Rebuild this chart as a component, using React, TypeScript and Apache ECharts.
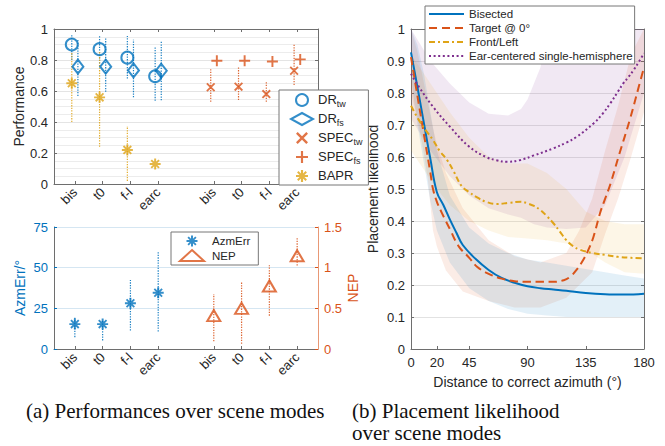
import React, { useEffect, useRef } from "react";
import * as echarts from "echarts";

const BLUE = "#0072BD";
const ORANGE = "#D95319";
const YELLOW = "#DFA417";
const PURPLE = "#7E2F8E";
const TEXT = "#262626";
const AXIS = "#6e6e6e";
const FONT = '"Liberation Sans", Arial, Helvetica, sans-serif';
const SERIF = '"Liberation Serif", "Times New Roman", serif';

// ---------- (a) performances over scene modes ----------
const modes = ["bis", "t0", "f-l", "earc"];
const tickPositions = [1, 2, 3, 4, 6, 7, 8, 9];
const tickLabels = [...modes, ...modes];
const detPos = [1, 2, 3, 4];
const specPos = [6, 7, 8, 9];

const drTw = [0.9, 0.87, 0.815, 0.695];
const drTwLo = [0.8, 0.76, 0.68, 0.537];
const drTwHi = [0.968, 0.962, 0.955, 0.886];
const drFs = [0.757, 0.757, 0.733, 0.731];
const drFsLo = [0.568, 0.595, 0.559, 0.54];
const drFsHi = [0.933, 0.94, 0.93, 0.925];
const specTw = [0.624, 0.628, 0.58, 0.731];
const specTwLo = [0.531, 0.542, 0.531, 0.639];
const specTwHi = [0.746, 0.757, 0.66, 0.903];
const specFs = [0.795, 0.795, 0.79, 0.804];
const bapr = [0.65, 0.559, 0.22, 0.129];
const baprLo = [0.4, 0.24, 0.02, null];
const baprHi = [0.854, 0.86, 0.374, null];

const azmErr = [15.3, 15.3, 28.1, 34.6];
const azmErrLo = [7.3, 5.3, 11.4, 10.8];
const azmErrHi = [20.0, 18.0, 42.4, 60.1];
const nep = [0.41, 0.5, 0.775, 1.146];
const nepLo = [0.094, 0.065, 0.41, 1.027];
const nepHi = [0.677, 0.83, 1.03, 1.366];

// ---------- (b) placement likelihood ----------
const azTicks = [0, 20, 45, 90, 135, 180];

const bisectedX = [0, 5, 10, 15, 20, 25, 30, 35, 40, 50, 60, 70, 80, 90, 100, 110, 120, 135, 150, 165, 180];
const bisectedY = [0.927, 0.818, 0.705, 0.593, 0.49, 0.45, 0.405, 0.364, 0.325, 0.281, 0.247, 0.222, 0.207, 0.196, 0.19, 0.186, 0.182, 0.175, 0.171, 0.17, 0.173];

const targetX = [0, 5, 10, 15, 17, 20, 24, 30, 37, 45, 51, 60, 70, 80, 90, 100, 110, 118, 123, 128, 133, 137, 141, 146, 150, 154, 161, 169, 176, 180];
const targetY = [0.912, 0.79, 0.67, 0.55, 0.5, 0.46, 0.424, 0.375, 0.32, 0.285, 0.257, 0.235, 0.22, 0.212, 0.21, 0.21, 0.21, 0.215, 0.226, 0.248, 0.278, 0.31, 0.351, 0.424, 0.47, 0.515, 0.61, 0.716, 0.82, 0.88];

const frontX = [0, 6, 12, 17, 22, 28, 33, 39, 45, 50, 58, 66, 76, 85, 90, 95, 100, 105, 110, 115, 120, 125, 130, 140, 150, 160, 170, 180];
const frontY = [0.76, 0.716, 0.68, 0.653, 0.62, 0.59, 0.555, 0.51, 0.49, 0.476, 0.46, 0.453, 0.457, 0.46, 0.455, 0.447, 0.434, 0.415, 0.393, 0.367, 0.34, 0.322, 0.311, 0.3, 0.294, 0.288, 0.285, 0.283];

const earX = [0, 6, 17, 30, 45, 58, 66, 74, 84, 95, 110, 120, 128, 141, 148, 154, 160, 164, 168, 172, 176, 180];
const earY = [0.86, 0.82, 0.757, 0.695, 0.632, 0.6, 0.59, 0.585, 0.59, 0.605, 0.627, 0.645, 0.663, 0.705, 0.735, 0.768, 0.805, 0.83, 0.85, 0.872, 0.897, 0.924];

// uncertainty bands
const bisBandX = [0, 5, 10, 15, 20, 30, 45, 60, 75, 90, 105, 120, 135, 150, 165, 180];
const bisBandHi = [1.0, 0.95, 0.86, 0.74, 0.62, 0.48, 0.38, 0.33, 0.3, 0.28, 0.27, 0.26, 0.25, 0.24, 0.23, 0.22];
const bisBandLo = [0.85, 0.7, 0.58, 0.46, 0.37, 0.27, 0.19, 0.15, 0.125, 0.11, 0.105, 0.1, 0.1, 0.1, 0.1, 0.1];

const tgtBandX = [0, 5, 10, 13, 17, 20, 27, 40, 60, 80, 100, 120, 130, 140, 150, 160, 170, 180];
const tgtBandHi = [1.0, 0.93, 0.83, 0.77, 0.69, 0.64, 0.55, 0.44, 0.34, 0.29, 0.27, 0.3, 0.37, 0.47, 0.62, 0.76, 0.92, 1.0];
const tgtBandLo = [0.8, 0.72, 0.61, 0.53, 0.37, 0.32, 0.245, 0.18, 0.15, 0.13, 0.13, 0.16, 0.2, 0.24, 0.36, 0.47, 0.6, 0.74];

const frontBandX = [0, 10, 20, 30, 45, 60, 75, 90, 105, 120, 135, 150, 165, 180];
const frontBandHi = [0.92, 0.86, 0.8, 0.74, 0.66, 0.6, 0.58, 0.58, 0.55, 0.5, 0.43, 0.4, 0.39, 0.39];
const frontBandLo = [0.62, 0.56, 0.5, 0.45, 0.4, 0.37, 0.35, 0.345, 0.34, 0.33, 0.31, 0.27, 0.24, 0.235];

const earBandX = [0, 15, 30, 45, 60, 75, 85, 90, 95, 100, 105, 120, 135, 150, 165, 180];
const earBandHi = [1.0, 0.9, 0.83, 0.77, 0.735, 0.73, 0.75, 0.78, 0.83, 0.88, 0.98, 1.0, 1.0, 1.0, 1.0, 1.0];
const earBandLo = [0.72, 0.62, 0.54, 0.48, 0.44, 0.42, 0.41, 0.4, 0.39, 0.385, 0.38, 0.375, 0.38, 0.45, 0.6, 0.8];

// ---------- symbols ----------
const PLUS = "path://M1,8.4H19V11.6H1Z M8.4,1H11.6V19H8.4Z";
const CROSS = "path://M2.58,4.7L4.7,2.58L17.42,15.3L15.3,17.42Z M4.7,17.42L2.58,15.3L15.3,2.58L17.42,4.7Z";
const STAR =
  "path://M1,8.4H19V11.6H1Z M8.4,1H11.6V19H8.4Z M2.58,4.7L4.7,2.58L17.42,15.3L15.3,17.42Z M4.7,17.42L2.58,15.3L15.3,2.58L17.42,4.7Z";

const zip = (xs: number[], ys: number[]) => xs.map((x, i) => [x, ys[i]]);
const fmt = (v: number) => String(parseFloat(v.toFixed(2)));

function errSeries(name: string, xs: number[], lo: (number | null)[], hi: (number | null)[], color: string, xi: number, yi: number) {
  const data: number[][] = [];
  xs.forEach((x, i) => {
    if (lo[i] != null && hi[i] != null) data.push([x, lo[i] as number, hi[i] as number]);
  });
  return {
    name,
    type: "custom",
    xAxisIndex: xi,
    yAxisIndex: yi,
    silent: true,
    z: 2,
    encode: { x: 0, y: [1, 2] },
    data,
    renderItem: (_p: any, api: any) => {
      const a = api.coord([api.value(0), api.value(1)]);
      const b = api.coord([api.value(0), api.value(2)]);
      return {
        type: "line",
        shape: { x1: a[0], y1: a[1], x2: b[0], y2: b[1] },
        style: { stroke: color, lineWidth: 1.2, lineDash: [1.3, 1.3], opacity: 0.9 },
      };
    },
  };
}

function bandSeries(name: string, xs: number[], lo: number[], hi: number[], color: string) {
  return {
    name,
    type: "custom",
    xAxisIndex: 3,
    yAxisIndex: 4,
    silent: true,
    z: 1,
    encode: { x: 0, y: [1, 2] },
    data: xs.map((x, i) => [x, lo[i], hi[i]]),
    renderItem: (p: any, api: any) => {
      if (p.dataIndex !== 0) return null;
      const pts: number[][] = [];
      xs.forEach((x, i) => pts.push(api.coord([x, hi[i]])));
      for (let i = xs.length - 1; i >= 0; i--) pts.push(api.coord([xs[i], lo[i]]));
      return { type: "polygon", shape: { points: pts }, style: { fill: color, opacity: 0.11 } };
    },
  };
}

function scatter(name: string, data: number[][], symbol: string, size: any, color: string, hollow: boolean, xi: number, yi: number) {
  return {
    name,
    type: "scatter",
    xAxisIndex: xi,
    yAxisIndex: yi,
    symbol,
    symbolSize: size,
    z: 5,
    itemStyle: hollow
      ? { color: "transparent", borderColor: color, borderWidth: 2 }
      : { color, borderWidth: 0 },
    data,
  };
}

function catX(gridIndex: number, position: string, labels: boolean) {
  return {
    type: "value",
    gridIndex,
    position,
    min: 0.25,
    max: 9.75,
    axisLine: { show: true, onZero: false, lineStyle: { color: AXIS, width: 1 } },
    axisTick: { show: true, inside: true, length: 3, customValues: tickPositions, lineStyle: { color: AXIS } },
    axisLabel: labels
      ? {
          show: true,
          customValues: tickPositions,
          rotate: 45,
          margin: 6,
          fontSize: 13,
          color: TEXT,
          fontFamily: FONT,
          formatter: (v: number) => {
            const k = tickPositions.indexOf(Math.round(v));
            return k >= 0 ? tickLabels[k] : "";
          },
        }
      : { show: false },
    splitLine: { show: false },
  };
}

function valY(gridIndex: number, position: string, min: number, max: number, interval: number, opts: any = {}) {
  return {
    type: "value",
    gridIndex,
    position,
    min,
    max,
    interval,
    axisLine: { show: true, onZero: false, lineStyle: { color: AXIS, width: 1 } },
    axisTick: { show: true, inside: true, length: 3, lineStyle: { color: AXIS } },
    axisLabel: { show: false },
    splitLine: { show: false },
    ...opts,
  };
}

function lineSeries(name: string, xs: number[], ys: number[], color: string, type: any) {
  return {
    name,
    type: "line",
    xAxisIndex: 3,
    yAxisIndex: 4,
    data: zip(xs, ys),
    symbol: "none",
    showSymbol: false,
    smooth: 0.4,
    z: 6,
    lineStyle: { color, width: 2, type },
    itemStyle: { color },
  };
}

function buildOption(): any {
  const off = 0.11;
  const nameStyle = { fontSize: 14, color: TEXT, fontFamily: FONT };
  const labelStyle = { fontSize: 13, color: TEXT, fontFamily: FONT };
  const noSymbol = { color: "transparent", borderColor: "transparent", borderWidth: 0, opacity: 0 };
  return {
    animation: false,
    backgroundColor: "#fff",
    textStyle: { fontFamily: FONT },
    grid: [
      { left: 54, top: 29, width: 264, height: 155, outerBoundsMode: "none", containLabel: false },
      { left: 54, top: 227, width: 264, height: 122, outerBoundsMode: "none", containLabel: false },
      { left: 411, top: 29, width: 233, height: 320, outerBoundsMode: "none", containLabel: false },
    ],
    xAxis: [
      catX(0, "bottom", true),
      catX(0, "top", false),
      catX(1, "bottom", true),
      {
        type: "value",
        gridIndex: 2,
        position: "bottom",
        min: 0,
        max: 180,
        name: "Distance to correct azimuth (°)",
        nameLocation: "middle",
        nameGap: 26,
        nameTextStyle: nameStyle,
        axisLine: { show: true, onZero: false, lineStyle: { color: AXIS } },
        axisTick: { show: true, inside: true, length: 3, customValues: azTicks, lineStyle: { color: AXIS } },
        axisLabel: { show: true, customValues: azTicks, margin: 7, ...labelStyle, formatter: (v: number) => String(v) },
        splitLine: { show: false },
      },
      {
        type: "value",
        gridIndex: 2,
        position: "top",
        min: 0,
        max: 180,
        axisLine: { show: true, onZero: false, lineStyle: { color: AXIS } },
        axisTick: { show: true, inside: true, length: 3, customValues: azTicks, lineStyle: { color: AXIS } },
        axisLabel: { show: false },
        splitLine: { show: false },
      },
    ],
    yAxis: [
      valY(0, "left", 0, 1, 0.2, {
        name: "Performance",
        nameLocation: "middle",
        nameGap: 25,
        nameTextStyle: nameStyle,
        axisLabel: { show: true, margin: 6, ...labelStyle, formatter: fmt },
        splitLine: { show: true, lineStyle: { color: "#e4e4e4", width: 1 } },
        minorTick: { show: false, splitNumber: 4 },
        minorSplitLine: { show: true, lineStyle: { color: "#ececec", width: 1 } },
      }),
      valY(0, "right", 0, 1, 0.2),
      valY(1, "left", 0, 75, 25, {
        name: "AzmErr/°",
        nameLocation: "middle",
        nameGap: 27,
        nameTextStyle: { ...nameStyle, color: BLUE },
        axisLine: { show: true, onZero: false, lineStyle: { color: AXIS } },
        axisTick: { show: true, inside: true, length: 3, lineStyle: { color: BLUE } },
        axisLabel: { show: true, margin: 6, ...labelStyle, color: BLUE, formatter: fmt },
        splitLine: { show: true, lineStyle: { color: "#d5e6f2", width: 1 } },
      }),
      valY(1, "right", 0, 1.5, 0.5, {
        name: "NEP",
        nameLocation: "middle",
        nameGap: 25,
        nameTextStyle: { ...nameStyle, color: ORANGE },
        axisLine: { show: true, onZero: false, lineStyle: { color: ORANGE, opacity: 0.6 } },
        axisTick: { show: true, inside: true, length: 3, lineStyle: { color: ORANGE } },
        axisLabel: { show: true, margin: 6, ...labelStyle, color: ORANGE, formatter: fmt },
      }),
      valY(2, "left", 0, 1, 0.1, {
        name: "Placement likelihood",
        nameLocation: "middle",
        nameGap: 31,
        nameTextStyle: nameStyle,
        axisLabel: { show: true, margin: 6, ...labelStyle, formatter: fmt },
        splitLine: { show: true, lineStyle: { color: "#e2e2e2", width: 1 } },
      }),
      valY(2, "right", 0, 1, 0.1),
    ],
    legend: [
      {
        data: [
          { name: "DR_tw", icon: "circle", itemStyle: { color: "transparent", borderColor: BLUE, borderWidth: 2 } },
          { name: "DR_fs", icon: "diamond", itemStyle: { color: "transparent", borderColor: BLUE, borderWidth: 2 } },
          { name: "SPEC_tw", icon: CROSS, itemStyle: { color: ORANGE } },
          { name: "SPEC_fs", icon: PLUS, itemStyle: { color: ORANGE } },
          { name: "BAPR", icon: STAR, itemStyle: { color: YELLOW } },
        ],
        orient: "vertical",
        left: 279,
        top: 90,
        padding: [3, 6, 3, 11],
        itemWidth: 22,
        itemHeight: 12,
        itemGap: 4,
        selectedMode: false,
        backgroundColor: "#fff",
        borderColor: "#777",
        borderWidth: 1,
        borderRadius: 0,
        formatter: (name: string) => {
          const [a, b] = name.split("_");
          return b ? `{b|${a}}{s|${b}}` : `{b|${a}}`;
        },
        textStyle: {
          color: TEXT,
          fontFamily: FONT,
          fontSize: 13,
          rich: {
            b: { fontSize: 13, lineHeight: 14, verticalAlign: "top", color: TEXT, fontFamily: FONT },
            s: { fontSize: 9, lineHeight: 10, verticalAlign: "top", padding: [6, 0, 0, 0], color: TEXT, fontFamily: FONT },
          },
        },
      },
      {
        data: [
          { name: "AzmErr", icon: STAR, itemStyle: { color: BLUE } },
          { name: "NEP", icon: "triangle", itemStyle: { color: "transparent", borderColor: ORANGE, borderWidth: 2 } },
        ],
        orient: "vertical",
        left: 171,
        top: 232,
        padding: [3, 8, 3, 8],
        itemWidth: 24,
        itemHeight: 11,
        itemGap: 2,
        selectedMode: false,
        backgroundColor: "#fff",
        borderColor: "#777",
        borderWidth: 1,
        borderRadius: 0,
        textStyle: { color: TEXT, fontFamily: FONT, fontSize: 11.5, padding: [0, 0, 0, 3] },
      },
      {
        data: [
          { name: "Bisected", itemStyle: noSymbol },
          { name: "Target @ 0°", itemStyle: noSymbol },
          { name: "Front/Left", itemStyle: noSymbol },
          { name: "Ear-centered single-hemisphere", itemStyle: noSymbol },
        ],
        orient: "vertical",
        left: 425,
        top: 6,
        padding: [2, 2, 2, 3],
        itemWidth: 35,
        itemHeight: 13,
        itemGap: 2,
        selectedMode: false,
        itemStyle: noSymbol,
        backgroundColor: "#fff",
        borderColor: "#777",
        borderWidth: 1,
        borderRadius: 0,
        textStyle: { color: TEXT, fontFamily: FONT, fontSize: 11.5 },
      },
    ],
    graphic: [
      {
        type: "text",
        x: 26,
        y: 411,
        style: { text: "(a) Performances over scene modes", font: `21px ${SERIF}`, fill: "#111", align: "left", verticalAlign: "middle" },
      },
      {
        type: "text",
        x: 352,
        y: 411,
        style: { text: "(b) Placement likelihood", font: `21px ${SERIF}`, fill: "#111", align: "left", verticalAlign: "middle" },
      },
      {
        type: "text",
        x: 352,
        y: 433,
        style: { text: "over scene modes", font: `21px ${SERIF}`, fill: "#111", align: "left", verticalAlign: "middle" },
      },
    ],
    series: [
      // (a) top: error bars
      errSeries("eDRtw", detPos.map((p) => p - off), drTwLo, drTwHi, BLUE, 0, 0),
      errSeries("eDRfs", detPos.map((p) => p + off), drFsLo, drFsHi, BLUE, 0, 0),
      errSeries("eBAPR", detPos.map((p) => p - off), baprLo, baprHi, YELLOW, 0, 0),
      errSeries("eSPECtw", specPos.map((p) => p - off), specTwLo, specTwHi, ORANGE, 0, 0),
      scatter("DR_tw", zip(detPos.map((p) => p - off), drTw), "circle", 12, BLUE, true, 0, 0),
      scatter("DR_fs", zip(detPos.map((p) => p + off), drFs), "diamond", [11, 14], BLUE, true, 0, 0),
      scatter("SPEC_tw", zip(specPos.map((p) => p - off), specTw), CROSS, 9, ORANGE, false, 0, 0),
      scatter("SPEC_fs", zip(specPos.map((p) => p + off), specFs), PLUS, 11, ORANGE, false, 0, 0),
      scatter("BAPR", zip(detPos.map((p) => p - off), bapr), STAR, 11, YELLOW, false, 0, 0),
      // (a) bottom
      errSeries("eAzm", detPos, azmErrLo, azmErrHi, BLUE, 2, 2),
      errSeries("eNEP", specPos, nepLo, nepHi, ORANGE, 2, 3),
      scatter("AzmErr", zip(detPos, azmErr), STAR, 11, BLUE, false, 2, 2),
      scatter("NEP", zip(specPos, nep), "triangle", [13, 11], ORANGE, true, 2, 3),
      // (b) bands
      bandSeries("bEar", earBandX, earBandLo, earBandHi, PURPLE),
      bandSeries("bFront", frontBandX, frontBandLo, frontBandHi, "#EDB120"),
      bandSeries("bTarget", tgtBandX, tgtBandLo, tgtBandHi, ORANGE),
      bandSeries("bBis", bisBandX, bisBandLo, bisBandHi, BLUE),
      // (b) lines
      lineSeries("Bisected", bisectedX, bisectedY, BLUE, "solid"),
      lineSeries("Target @ 0°", targetX, targetY, ORANGE, [8, 5]),
      lineSeries("Front/Left", frontX, frontY, YELLOW, [6, 3, 2, 3]),
      lineSeries("Ear-centered single-hemisphere", earX, earY, PURPLE, [2, 2.6]),
    ],
  };
}

export default function App() {
  const ref = useRef<HTMLDivElement>(null);
  useEffect(() => {
    if (!ref.current) return;
    const chart = echarts.init(ref.current, null, { renderer: "svg" });
    chart.setOption(buildOption());
    return () => chart.dispose();
  }, []);
  return (
    <div
      ref={ref}
      style={{ position: "fixed", left: 0, top: 0, width: 665, height: 446, background: "#fff" }}
    />
  );
}
